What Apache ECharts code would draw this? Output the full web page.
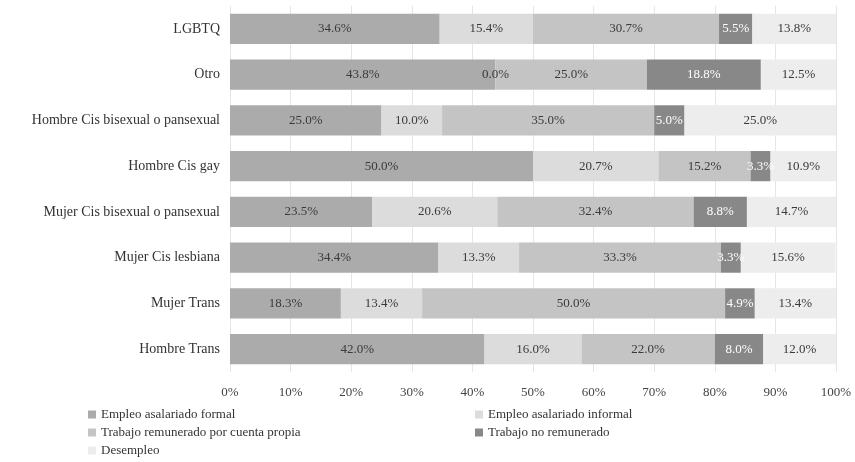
<!DOCTYPE html>
<html>
<head>
<meta charset="utf-8">
<script src="https://cdn.jsdelivr.net/npm/echarts@6/dist/echarts.min.js"></script>
<style>
    html, body { margin: 0; padding: 0; background: #fff; }
    #chart { width: 855px; height: 462px; }
</style>
</head>
<body>
<div id="chart"></div>
<script>
let categories = ['LGBTQ', 'Otro', 'Hombre Cis bisexual o pansexual', 'Hombre Cis gay',
    'Mujer Cis bisexual o pansexual', 'Mujer Cis lesbiana', 'Mujer Trans', 'Hombre Trans']

let seriesNames = ['Empleo asalariado formal', 'Empleo asalariado informal',
    'Trabajo remunerado por cuenta propia', 'Trabajo no remunerado', 'Desempleo']

let formal = [34.6, 43.8, 25.0, 50.0, 23.5, 34.4, 18.3, 42.0]
let informal = [15.4, 0.0, 10.0, 20.7, 20.6, 13.3, 13.4, 16.0]
let propia = [30.7, 25.0, 35.0, 15.2, 32.4, 33.3, 50.0, 22.0]
let noRemunerado = [5.5, 18.8, 5.0, 3.3, 8.8, 3.3, 4.9, 8.0]
let desempleo = [13.8, 12.5, 25.0, 10.9, 14.7, 15.6, 13.4, 12.0]

let xTicks = [0, 10, 20, 30, 40, 50, 60, 70, 80, 90, 100]

let colors = ['#ababab', '#dcdcdc', '#c4c4c4', '#888888', '#ededed']
let font = '"Liberation Serif", "DejaVu Serif", serif'

let values = [formal, informal, propia, noRemunerado, desempleo]

let series = seriesNames.map((name, i) => ({
    name: name,
    type: 'bar',
    stack: 'total',
    barCategoryGap: '34%',
    data: values[i],
    itemStyle: { color: colors[i] },
    label: {
        show: true,
        position: 'inside',
        formatter: p => p.value.toFixed(1) + '%',
        color: i === 3 ? '#ffffff' : '#3a3a3a',
        fontFamily: font,
        fontSize: 13
    }
}))

let legendText = { fontFamily: font, fontSize: 13, color: '#333' }

let option = {
    animation: false,
    backgroundColor: '#ffffff',
    grid: { left: 230, right: 19, top: 6, bottom: 90, containLabel: false },
    xAxis: {
        type: 'value',
        min: 0,
        max: 100,
        interval: 10,
        axisLine: { show: false },
        axisTick: { show: false },
        splitLine: { lineStyle: { color: '#e6e6e6' } },
        axisLabel: {
            formatter: v => xTicks.includes(v) ? v + '%' : '',
            fontFamily: font, fontSize: 13, color: '#444', margin: 14
        }
    },
    yAxis: {
        type: 'category',
        inverse: true,
        data: categories,
        axisLine: { show: false },
        axisTick: { show: false },
        axisLabel: { fontFamily: font, fontSize: 14, color: '#333', margin: 10 }
    },
    legend: [
        {
            orient: 'vertical', left: 88, top: 408, height: 60, itemWidth: 8, itemHeight: 8, itemGap: 5,
            padding: 0,
            data: [seriesNames[0], seriesNames[2], seriesNames[4]],
            textStyle: legendText, icon: 'rect'
        },
        {
            orient: 'vertical', left: 475, top: 408, height: 60, itemWidth: 8, itemHeight: 8, itemGap: 5,
            padding: 0,
            data: [seriesNames[1], seriesNames[3]],
            textStyle: legendText, icon: 'rect'
        }
    ],
    series: series
}

let chart = echarts.init(document.getElementById('chart'))
chart.setOption(option)
</script>
</body>
</html>
